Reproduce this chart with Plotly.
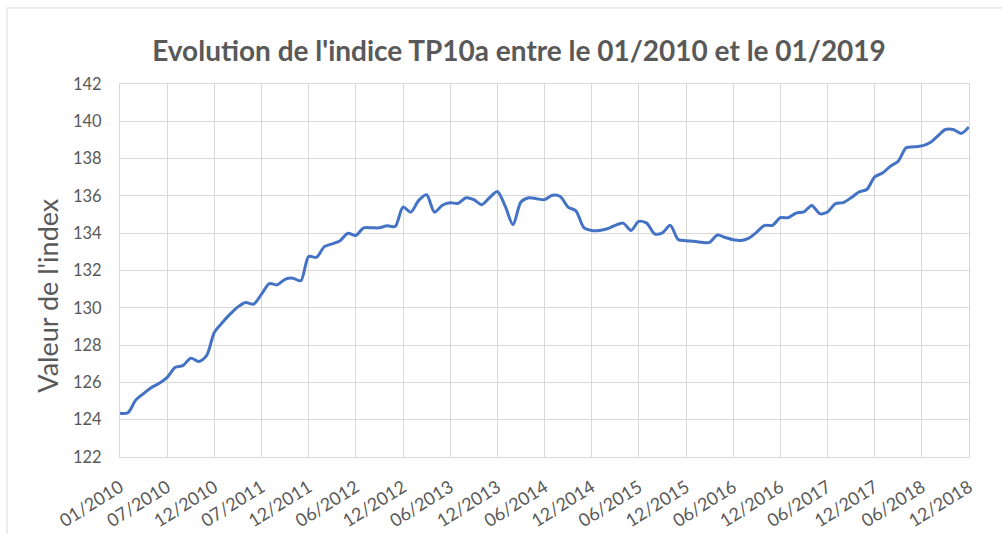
import plotly.graph_objects as go

# ---- data ----
index_values = [
    124.34, 124.37, 125.05, 125.40, 125.73, 125.95, 126.27, 126.80, 126.90, 127.30,
    127.12, 127.43, 128.68, 129.20, 129.66, 130.05, 130.28, 130.20, 130.73, 131.30,
    131.23, 131.53, 131.59, 131.45, 132.75, 132.71, 133.28, 133.43, 133.60, 134.00,
    133.88, 134.29, 134.29, 134.29, 134.40, 134.36, 135.40, 135.13, 135.76, 136.06,
    135.13, 135.50, 135.63, 135.60, 135.90, 135.80, 135.53, 135.90, 136.24, 135.45,
    134.45, 135.67, 135.90, 135.85, 135.80, 136.03, 135.97, 135.40, 135.20, 134.30,
    134.15, 134.15, 134.24, 134.42, 134.54, 134.15, 134.63, 134.54, 133.97, 134.02,
    134.42, 133.66, 133.60, 133.57, 133.51, 133.51, 133.90, 133.77, 133.65, 133.61,
    133.74, 134.06, 134.42, 134.42, 134.83, 134.83, 135.08, 135.14, 135.49, 135.05,
    135.14, 135.58, 135.64, 135.90, 136.21, 136.34, 137.02, 137.23, 137.59, 137.86,
    138.58, 138.63, 138.68, 138.85, 139.20, 139.56, 139.56, 139.35, 139.70,
]
point_index = list(range(len(index_values)))

tick_labels = [
    "01/2010", "07/2010", "12/2010", "07/2011", "12/2011", "06/2012", "12/2012",
    "06/2013", "12/2013", "06/2014", "12/2014", "06/2015", "12/2015", "06/2016",
    "12/2016", "06/2017", "12/2017", "06/2018", "12/2018",
]
tick_step = 6
tick_positions = [i * tick_step for i in range(len(tick_labels))]

y_ticks = list(range(122, 143, 2))

title_text = "Evolution de l'indice TP10a entre le 01/2010 et le 01/2019"
y_title = "Valeur de l'index"

# ---- figure ----
FONT = "Lato"
GREY = "#595959"
GRID = "#D9D9D9"

fig = go.Figure()
fig.add_trace(go.Scatter(
    x=point_index, y=index_values, mode="lines",
    line=dict(color="#4472C4", width=3, shape="spline", smoothing=0.8),
    hoverinfo="x+y", showlegend=False,
))

L, R, T, B = 120, 968.7, 84, 456.7
W, H = 1002, 534

fig.update_layout(
    width=W, height=H,
    margin=dict(l=L, r=W - R, t=T, b=H - B, pad=0, autoexpand=False),
    paper_bgcolor="white", plot_bgcolor="white",
    font=dict(family=FONT, color=GREY, size=16),
    title=dict(
        text="<b>" + title_text + "</b>",
        font=dict(family=FONT, size=28, color=GREY),
        x=519 / W, xref="container", xanchor="center",
        y=1 - 51 / H, yref="container", yanchor="middle",
    ),
    xaxis=dict(
        range=[0, point_index[-1]], automargin=False,
        tickmode="array", tickvals=tick_positions, ticktext=tick_labels,
        tickangle=-32, tickfont=dict(size=18, color=GREY),
        ticklabelstandoff=12,
        showgrid=True, gridcolor=GRID, gridwidth=1,
        showline=True, linecolor="#D9D9D9", linewidth=1, mirror=True,
        zeroline=False, ticks="", ticklen=0,
    ),
    yaxis=dict(
        range=[122, 142], automargin=False,
        tickmode="array", tickvals=y_ticks,
        tickfont=dict(size=16.5, color=GREY),
        ticklabelstandoff=14,
        showgrid=True, gridcolor=GRID, gridwidth=1,
        showline=True, linecolor=GRID, linewidth=1, mirror=True,
        zeroline=False, ticks="",
    ),
    annotations=[
        dict(text=y_title, textangle=-90, showarrow=False,
             xref="paper", yref="paper",
             x=(47.5 - L) / (R - L), y=(B - 295) / (B - T),
             xanchor="center", yanchor="middle",
             font=dict(family=FONT, size=27, color=GREY)),
    ],
    shapes=[
        dict(type="rect", xref="paper", yref="paper",
             x0=(7 - L) / (R - L), x1=1.2,
             y0=-0.5, y1=(B - 8) / (B - T),
             line=dict(color="#D9D9D9", width=1), fillcolor="rgba(0,0,0,0)",
             layer="below"),
    ],
)

fig.write_html("out.html", config={"displayModeBar": False},
               post_script="document.body.style.margin='0';")
